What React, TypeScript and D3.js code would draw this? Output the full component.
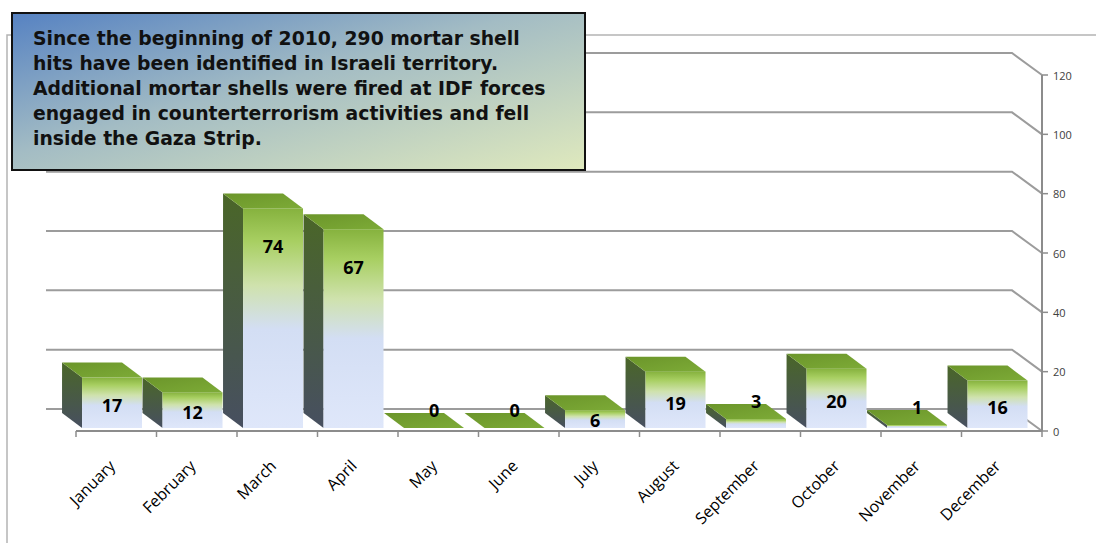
import * as d3 from 'd3';
import React from 'react';

// mortar shell hits by month, 2010
const months = ['January', 'February', 'March', 'April', 'May', 'June', 'July', 'August', 'September', 'October', 'November', 'December'];
const hits = [17, 12, 74, 67, 0, 0, 6, 19, 3, 20, 1, 16];
const yTicks = [0, 20, 40, 60, 80, 100, 120];
const noteLines = [
  'Since the beginning of 2010, 290 mortar shell',
  'hits have been identified in Israeli territory.',
  'Additional mortar shells were fired at IDF forces',
  'engaged in counterterrorism activities and fell',
  'inside the Gaza Strip.',
];

export default function App() {
  const W = 1096, H = 543;

  // front plane of the 3d box
  const x = d3.scaleBand<string>().domain(months).range([76, 1042]);
  const y = d3.scaleLinear().domain([0, 120]).range([431, 75]);

  // back wall offset, bar depth
  const wallDx = 30, wallDy = 22;
  const barDx = 20, barDy = 15, barInset = 3;
  const barW = x.bandwidth() * 0.745;
  const barPad = x.bandwidth() * 0.075;

  const boundaries = months.map((m) => x(m)!).concat([x.range()[1]]);

  return (
    <svg width={W} height={H} style={{position: 'absolute', left: 0, top: 0}}>
      <defs>
        <linearGradient id="front" x1="0" y1="0" x2="0" y2="1">
          <stop offset="0%" stopColor="#86b23e" />
          <stop offset="15%" stopColor="#a8cf62" />
          <stop offset="35%" stopColor="#cfe2ad" />
          <stop offset="55%" stopColor="#d3def4" />
          <stop offset="100%" stopColor="#dfe7fa" />
        </linearGradient>
        <linearGradient id="side" x1="0" y1="0" x2="0" y2="1">
          <stop offset="0%" stopColor="#4a6628" />
          <stop offset="100%" stopColor="#474f60" />
        </linearGradient>
        <linearGradient id="top" x1="0" y1="0" x2="1" y2="1">
          <stop offset="0%" stopColor="#6b952a" />
          <stop offset="100%" stopColor="#7dab37" />
        </linearGradient>
        <linearGradient id="note" x1="0" y1="0" x2="1" y2="1">
          <stop offset="0%" stopColor="#5682c2" />
          <stop offset="45%" stopColor="#a3bcc4" />
          <stop offset="100%" stopColor="#dfe9bd" />
        </linearGradient>
      </defs>

      {/* outer chart border */}
      <path d={`M7,${H} V35 H${W}`} fill="none" stroke="#b4b4b4" strokeWidth={1.5} />

      {/* gridlines on back wall, bending to the value axis */}
      {yTicks.map((t) => (
        <path key={'g' + t}
          d={`M46,${y(t) - wallDy} H${1042 - wallDx} L1042,${y(t)}`}
          fill="none" stroke="#9c9c9c" strokeWidth={2} />
      ))}

      {/* bars */}
      {hits.map((v, i) => {
        const fx = x(months[i])! + barPad;
        const b = y(0) - barInset;
        const t = y(v) - barInset;
        return (
          <g key={'b' + i}>
            <polygon
              points={`${fx - barDx},${t - barDy} ${fx},${t} ${fx},${b} ${fx - barDx},${b - barDy}`}
              fill="url(#side)" />
            {v > 0 && <rect x={fx} y={t} width={barW} height={b - t} fill="url(#front)" />}
            <polygon
              points={`${fx - barDx},${t - barDy} ${fx + barW - barDx},${t - barDy} ${fx + barW},${t} ${fx},${t}`}
              fill="url(#top)" />
          </g>
        );
      })}

      {/* value labels */}
      {hits.map((v, i) => {
        const t = y(v) - barInset;
        const h = y(0) - y(v);
        const ly = v >= 6 ? t + Math.min(h * 0.55, 38) : t - 18;
        return (
          <text key={'l' + i} x={x(months[i])! + barPad + barW / 2} y={ly}
            textAnchor="middle" dominantBaseline="central"
            fontFamily="'Open Sans', sans-serif" fontWeight="bold" fontSize={18} fill="#000">
            {v}
          </text>
        );
      })}

      {/* category axis */}
      <line x1={76} x2={1042} y1={y(0)} y2={y(0)} stroke="#8c8c8c" strokeWidth={2} />
      {boundaries.map((bx, i) => (
        <line key={'xt' + i} x1={bx} x2={bx} y1={y(0)} y2={y(0) + 6} stroke="#8c8c8c" strokeWidth={1.5} />
      ))}
      {months.map((m) => {
        const cx = x(m)! + x.bandwidth() / 2;
        return (
          <text key={'xl' + m} transform={`translate(${cx},${y(0) + 36}) rotate(-45)`}
            textAnchor="end" fontFamily="'Open Sans', sans-serif" fontSize={16} fill="#000">
            {m}
          </text>
        );
      })}

      {/* value axis */}
      <line x1={1042} x2={1042} y1={y(120)} y2={y(0)} stroke="#8c8c8c" strokeWidth={2} />
      {yTicks.map((t) => (
        <g key={'yt' + t}>
          <line x1={1042} x2={1048} y1={y(t)} y2={y(t)} stroke="#8c8c8c" strokeWidth={1.5} />
          <text x={1053} y={y(t)} dominantBaseline="central"
            fontFamily="'Open Sans', sans-serif" fontSize={11} fill="#404040">
            {t}
          </text>
        </g>
      ))}

      {/* note box */}
      <rect x={12} y={13} width={573} height={157} fill="url(#note)" stroke="#111" strokeWidth={2} />
      {noteLines.map((s, i) => (
        <text key={'n' + i} x={33} y={45 + i * 25}
          fontFamily="'DejaVu Sans', Verdana, sans-serif" fontWeight="bold" fontSize={18.8} fill="#111">
          {s}
        </text>
      ))}
    </svg>
  );
}
